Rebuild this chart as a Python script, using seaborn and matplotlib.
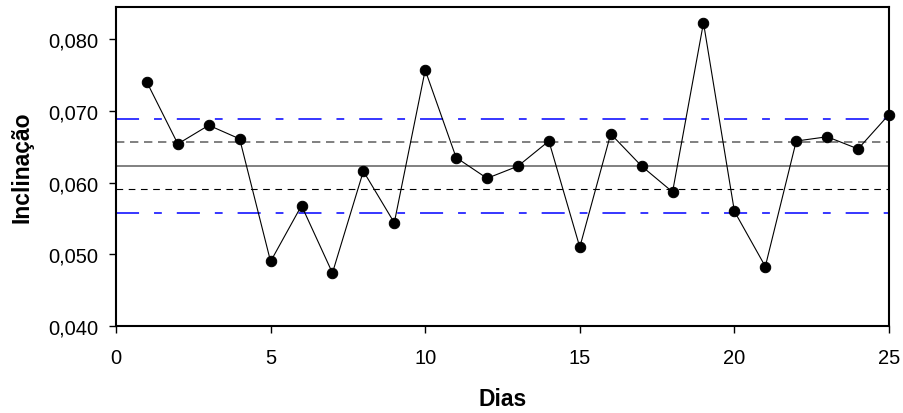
import matplotlib
matplotlib.use("Agg")
import matplotlib.pyplot as plt
import seaborn as sns
import pandas as pd

# Data
dias = list(range(1, 26))
inclinacao = [0.0740, 0.0654, 0.0680, 0.0661, 0.0490, 0.0568, 0.0474, 0.0616, 0.0544,
              0.0757, 0.0635, 0.0606, 0.0623, 0.0658, 0.0510, 0.0668, 0.0623, 0.0587,
              0.0823, 0.0560, 0.0483, 0.0658, 0.0664, 0.0647, 0.0695]
linha_central = 0.06235
limites_1 = [0.0591, 0.0657]   # inner (dashed)
limites_2 = [0.0557, 0.0689]   # outer (blue dash-dot)
x_ticks = [0, 5, 10, 15, 20, 25]
y_ticks = [0.040, 0.050, 0.060, 0.070, 0.080]

sns.set_style("white")
plt.rcParams['font.family'] = ['Liberation Sans', 'DejaVu Sans']

fig = plt.figure(figsize=(9.04, 4.14), dpi=100)
ax = fig.add_axes([116/904, 1-327/414, (889-116)/904, (327-8)/414])

df = pd.DataFrame({"Dias": dias, "Inclinação": inclinacao})

# reference lines
ax.axhline(linha_central, color="#808080", lw=1.4, zorder=1)
ax.axhline(limites_1[1], color="#808080", lw=1.4, ls=(0, (4.3, 2.9)), zorder=1)
ax.axhline(limites_1[0], color="black", lw=0.8, ls=(0, (6.0, 5.0)), zorder=1)
for v in limites_2:
    ax.axhline(v, color="#0000ff", lw=1.1, ls=(0, (15.1, 9.8, 5.1, 9.8)), zorder=1)

sns.lineplot(data=df, x="Dias", y="Inclinação", ax=ax, color="black", lw=0.8,
             marker="o", markersize=7.5, markeredgecolor="black",
             markerfacecolor="black", zorder=3, clip_on=False)

ax.set_xlim(0, 25)
ax.set_ylim(0.040, 0.0845)
ax.set_xticks(x_ticks)
ax.set_xticklabels([str(t) for t in x_ticks])
ax.set_yticks(y_ticks)
ax.set_yticklabels([f"{t:.3f}".replace(".", ",") for t in y_ticks])

ax.tick_params(axis="both", which="major", direction="out", length=5, width=1,
               color="black", labelsize=14.5, labelcolor="black", left=True, bottom=True)
ax.tick_params(axis="y", pad=8)
ax.tick_params(axis="x", pad=11)

for s in ax.spines.values():
    s.set_color("black")
    s.set_linewidth(1.5)

ax.set_xlabel("Dias", fontsize=16.5, fontweight="bold", labelpad=14, color="black")
ax.set_ylabel("Inclinação", fontsize=16.5, fontweight="bold", labelpad=10, color="black")

fig.savefig("out.png", dpi=100, facecolor="white")
